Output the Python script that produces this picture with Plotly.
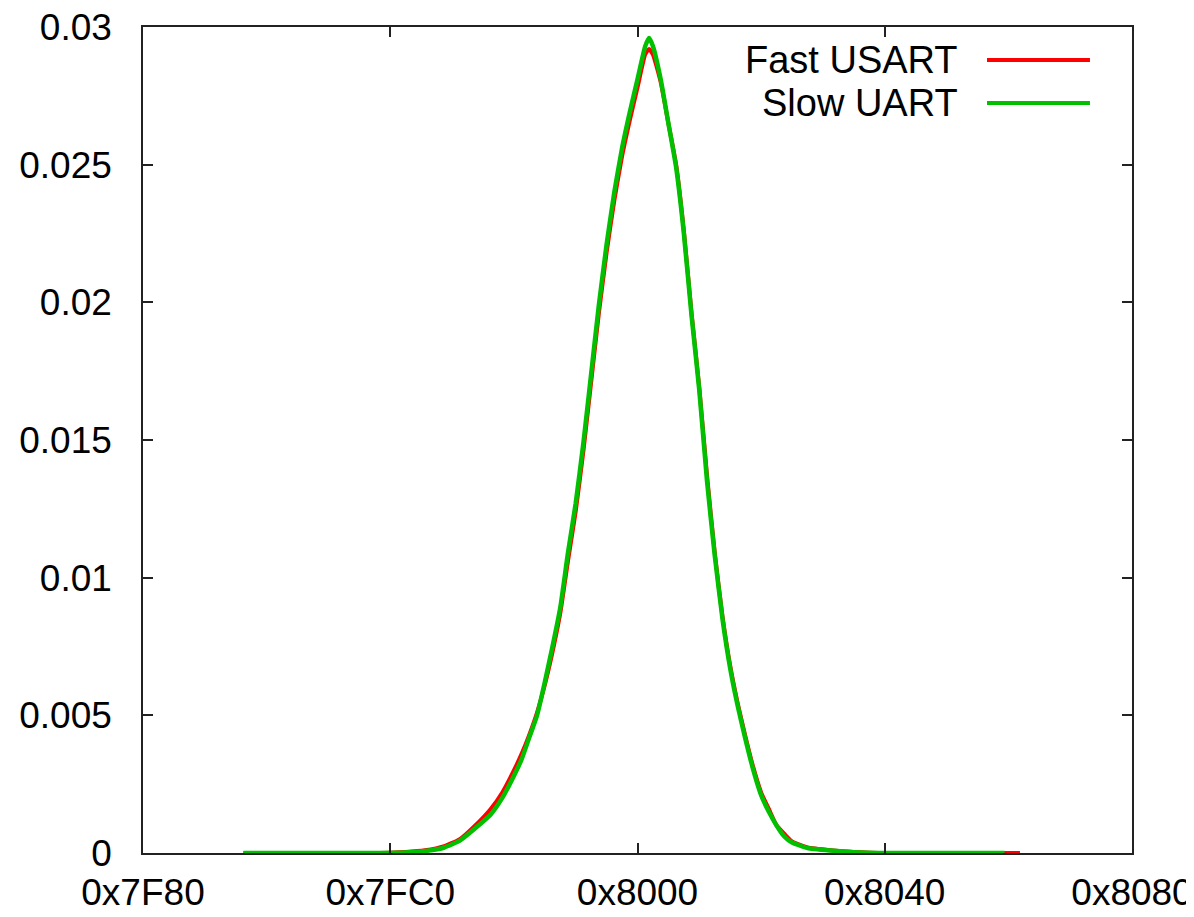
import plotly.graph_objects as go

# ---- data (x as offsets from 0x8000, y = probability) ----
BASE = 0x8000

slow_offsets = [-102, -70, -60, -55, -50, -46, -42, -38, -35, -32, -30, -28, -26, -24, -22, -20,
                -18, -16, -14, -12, -10, -8, -6, -4, -2, 0, 2, 3, 4, 6, 8, 10, 12, 14, 16, 18,
                20, 22, 24, 26, 28, 30, 32, 34, 36, 38, 40, 44, 50, 56, 65, 95]
slow_values = [0, 0, 0.00002, 0.00007, 0.0002, 0.00045, 0.0009, 0.0014, 0.0020, 0.0028, 0.0034,
               0.0042, 0.0050, 0.0062, 0.0075, 0.0089, 0.0109, 0.0127, 0.0149, 0.0174, 0.0199,
               0.0221, 0.0240, 0.0256, 0.0269, 0.0281, 0.0293, 0.0296, 0.0293, 0.0281, 0.0265,
               0.0249, 0.0225, 0.0195, 0.0168, 0.0135, 0.0108, 0.0085, 0.0067, 0.0053, 0.0041,
               0.0030, 0.0021, 0.0015, 0.0010, 0.0006, 0.00038, 0.00018, 0.00009, 0.00003, 0, 0]

fast_offsets = [-102, -70, -60, -55, -50, -46, -42, -38, -35, -32, -30, -28, -26, -24, -22, -20,
                -18, -16, -14, -12, -10, -8, -6, -4, -2, 0, 2, 3, 4, 6, 8, 10, 12, 14, 16, 18,
                20, 22, 24, 26, 28, 30, 32, 34, 36, 38, 40, 44, 50, 56, 65, 99]
fast_values = [0, 0, 0.00004, 0.0001, 0.00025, 0.0005, 0.0010, 0.0016, 0.0022, 0.0030, 0.0036,
               0.0043, 0.0051, 0.0061, 0.0073, 0.0087, 0.0106, 0.0124, 0.0146, 0.0171, 0.0196,
               0.0218, 0.0237, 0.0253, 0.0266, 0.0278, 0.0290, 0.0292, 0.0290, 0.0280, 0.0265,
               0.0250, 0.0226, 0.0196, 0.0169, 0.0137, 0.0109, 0.0086, 0.0068, 0.0054, 0.0042,
               0.0031, 0.0022, 0.0016, 0.0010, 0.0007, 0.00042, 0.0002, 0.0001, 0.00004, 0, 0]

x_tick_vals = [0x7F80, 0x7FC0, 0x8000, 0x8040, 0x8080]
x_tick_text = ["0x7F80", "0x7FC0", "0x8000", "0x8040", "0x8080"]
y_tick_vals = [0, 0.005, 0.01, 0.015, 0.02, 0.025, 0.03]
y_tick_text = ["0", "0.005", "0.01", "0.015", "0.02", "0.025", "0.03"]

series_names = ["Fast USART", "Slow UART"]
RED = "#ff0000"
GREEN = "#00c000"

fig = go.Figure()
fig.add_trace(go.Scatter(
    x=[BASE + o for o in fast_offsets], y=fast_values, mode="lines",
    name=series_names[0], line=dict(color=RED, width=4, shape="spline", smoothing=0.5),
    showlegend=False))
fig.add_trace(go.Scatter(
    x=[BASE + o for o in slow_offsets], y=slow_values, mode="lines",
    name=series_names[1], line=dict(color=GREEN, width=4.5, shape="spline", smoothing=0.5),
    showlegend=False))

FONT = "Liberation Sans, Arial, Helvetica, sans-serif"

axis_common = dict(
    showline=True, linecolor="#222222", linewidth=1.5, mirror="ticks",
    ticks="inside", ticklen=10, tickwidth=1.5, tickcolor="#222222",
    showgrid=False, zeroline=False, automargin=False, ticklabeloverflow="allow",
    tickfont=dict(family=FONT, size=37, color="black"),
)

# page body has an 8px margin: figure is sized/offset so the plot box lands where the reference has it
fig.update_layout(
    width=1186, height=909,
    margin=dict(l=135, r=62, t=19, b=64, autoexpand=False),
    paper_bgcolor="white", plot_bgcolor="white",
    xaxis=dict(range=[0x7F80, 0x8080], tickmode="array", tickvals=x_tick_vals,
               ticktext=x_tick_text, ticklabelstandoff=6, **axis_common),
    yaxis=dict(range=[0, 0.03], tickmode="array", tickvals=y_tick_vals,
               ticktext=y_tick_text, ticklabelstandoff=22, **axis_common),
)

# gnuplot-style key: text then line sample
legend_rows = [(series_names[0], RED, 0.960), (series_names[1], GREEN, 0.908)]
for name, color, yp in legend_rows:
    fig.add_annotation(x=0.826, y=yp, xref="paper", yref="paper", text=name,
                       showarrow=False, xanchor="right", yanchor="middle",
                       font=dict(family=FONT, size=38, color="black"))
    fig.add_shape(type="line", xref="paper", yref="paper", x0=0.8534, x1=0.9575,
                  y0=yp, y1=yp, line=dict(color=color, width=4))

fig.write_html("out.html")
